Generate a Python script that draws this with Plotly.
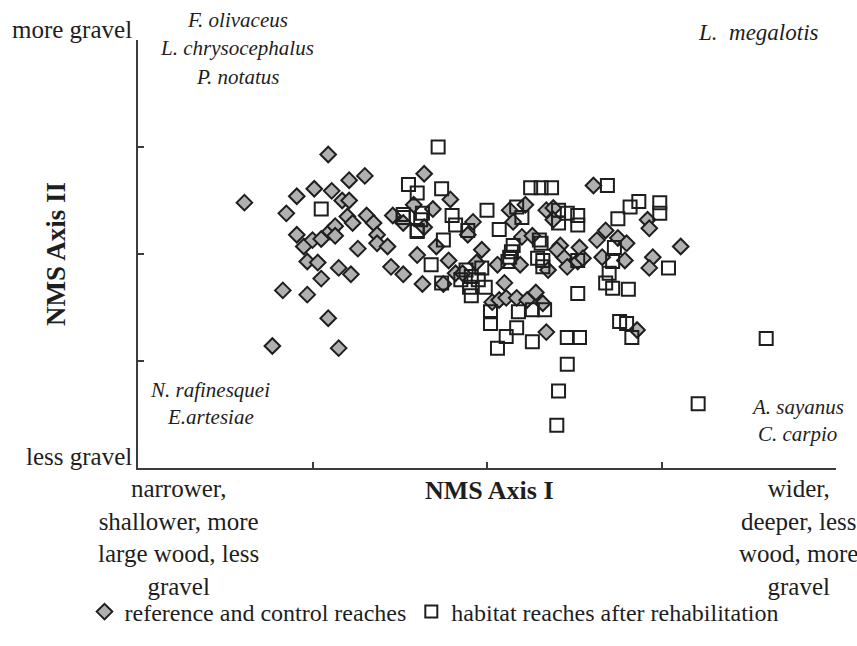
import plotly.graph_objects as go

# NMS scores (axis I, axis II)
ref_x = [-1.39, -1.23, -1.17, -1.15, -1.09, -1.09, -1.05, -1.03, -1.03, -1.00,
         -0.99, -0.97, -0.95, -0.95, -0.91, -0.91, -0.90, -0.89, -0.87, -0.87,
         -0.85, -0.85, -0.83, -0.80, -0.79, -0.79, -0.78, -0.77, -0.74, -0.70,
         -0.69, -0.65, -0.63, -0.63, -0.57, -0.55, -0.54, -0.48, -0.48, -0.42,
         -0.40, -0.37, -0.36, -0.36, -0.31, -0.29, -0.25, -0.22, -0.21, -0.18,
         -0.14, -0.11, -0.08, -0.06, -0.03, 0.03, 0.06, 0.07, 0.10, 0.11,
         0.13, 0.15, 0.17, 0.19, 0.20, 0.22, 0.23, 0.26, 0.28, 0.32,
         0.34, 0.34, 0.35, 0.38, 0.38, 0.42, 0.44, 0.46, 0.52, 0.53,
         0.61, 0.63, 0.66, 0.68, 0.75, 0.79, 0.80, 0.86, 0.92, 0.93,
         0.95, 0.93, 1.11, 0.40, 0.55]
ref_y = [0.48, -0.86, -0.34, 0.38, 0.54, 0.18, 0.07, -0.38, -0.07, 0.13,
         0.61, -0.08, 0.14, -0.23, 0.93, -0.60, 0.21, 0.59, 0.26, 0.17,
         -0.13, -0.88, 0.50, 0.35, 0.69, 0.50, -0.19, 0.29, 0.05, 0.73,
         0.36, 0.29, 0.18, 0.10, 0.07, -0.12, 0.36, 0.29, -0.19, 0.46,
         -0.01, -0.28, 0.75, 0.25, 0.42, 0.07, -0.28, -0.06, 0.51, -0.18,
         -0.18, 0.18, 0.30, -0.08, 0.04, -0.45, -0.10, -0.43, -0.27, -0.41,
         0.41, 0.30, -0.41, -0.10, 0.16, 0.46, -0.43, 0.17, -0.36, -0.46,
         0.41, -0.73, -0.15, 0.43, 0.32, 0.08, -0.03, -0.12, -0.07, 0.06,
         0.64, 0.13, -0.03, 0.22, 0.15, -0.06, 0.10, -0.71, 0.32, 0.24,
         -0.03, -0.13, 0.07, 0.04, -0.04]

hab_x = [-0.95, -0.45, -0.40, -0.48, -0.40, -0.37, -0.28, -0.26, 0.25, 0.31,
         0.37, 0.00, 0.17, 0.20, 0.07, 0.41, 0.46, 0.52, 0.52, 0.69,
         0.75, 0.82, 0.87, 0.99, 0.99, 0.41, 0.30, 0.15, 0.13, 0.29,
         0.32, 0.73, 0.72, 0.70, 0.68, 0.72, 0.81, 1.04, 0.52, -0.32,
         -0.26, -0.09, -0.01, 0.02, 0.02, 0.11, 0.06, 0.17, 0.18, 0.26,
         0.33, 0.26, 0.46, 0.53, 0.46, 0.41, 0.40, 0.76, 0.80, 0.83,
         1.21, 1.60, -0.38, -0.40, -0.18, -0.11, -0.25, -0.12, -0.09, -0.05,
         -0.15, 0.14, 0.12, 0.52, 0.32, -0.20, -0.48, 0.31, -0.10, -0.03]
hab_y = [0.42, 0.65, 0.57, 0.34, 0.22, 0.38, 1.00, 0.61, 0.62, 0.62,
         0.62, 0.41, 0.44, 0.34, 0.23, 0.41, 0.38, 0.36, 0.27, 0.64,
         0.33, 0.44, 0.49, 0.48, 0.38, 0.29, 0.13, 0.08, -0.03, -0.04,
         -0.12, 0.06, -0.07, -0.18, -0.27, -0.32, -0.33, -0.13, -0.37, -0.10,
         -0.27, -0.39, -0.31, -0.54, -0.65, -0.77, -0.88, -0.69, -0.54, -0.52,
         -0.52, -0.82, -0.78, -0.78, -1.03, -1.28, -1.60, -0.63, -0.65, -0.78,
         -1.40, -0.79, 0.32, 0.21, 0.27, 0.22, 0.13, -0.15, -0.21, -0.24,
         -0.24, 0.02, -0.07, -0.06, -0.06, 0.36, 0.37, 0.10, -0.31, -0.13]

axis_ticks = [-2, -1, 0, 1, 2]

SERIF = "Liberation Serif, Times New Roman, serif"
INK = "#1e1e1e"

fig = go.Figure()
fig.add_trace(go.Scatter(
    x=ref_x, y=ref_y, mode="markers", name="reference and control reaches",
    marker=dict(symbol="diamond", size=12, color="#b0b0b0",
                line=dict(color=INK, width=2))))
fig.add_trace(go.Scatter(
    x=hab_x, y=hab_y, mode="markers", name="habitat reaches after rehabilitation",
    marker=dict(symbol="square-open", size=13, color=INK,
                line=dict(color=INK, width=2))))

axis_common = dict(range=[-2, 2], showgrid=False, zeroline=False, showline=True,
                   linecolor="#3c3c3c", linewidth=1.5, ticks="inside", ticklen=6,
                   tickcolor="#3c3c3c", tickwidth=1.5, tickvals=axis_ticks,
                   showticklabels=False, fixedrange=True)

fig.update_layout(
    width=857, height=646,
    margin=dict(l=138, r=21, t=40, b=178, autoexpand=False),
    paper_bgcolor="white", plot_bgcolor="white",
    xaxis=axis_common, yaxis=axis_common,
    font=dict(family=SERIF, size=24, color=INK),
    showlegend=True,
    legend=dict(orientation="h", xref="container", yref="container",
                x=434 / 857, xanchor="center", y=(646 - 612) / 646, yanchor="middle",
                font=dict(family=SERIF, size=24, color=INK),
                itemsizing="constant", itemwidth=30, tracegroupgap=0,
                bgcolor="rgba(0,0,0,0)"),
)

def ann(text, x, y, size=24, italic=False, bold=False, xanchor="center", align="center", angle=0):
    t = text
    if italic:
        t = "<i>" + t + "</i>"
    if bold:
        t = "<b>" + t + "</b>"
    fig.add_annotation(text=t, x=x, y=y, xref="paper", yref="paper", showarrow=False,
                       xanchor=xanchor, yanchor="middle", align=align, textangle=angle,
                       font=dict(family=SERIF, size=size, color=INK))

# paper coordinates: px -> (px-138)/698, py -> (468-py)/428
def px(xp):
    return (xp - 138) / 698

def py(yp):
    return (468 - yp) / 428

ann("more gravel", px(134), py(30), size=25, xanchor="right")
ann("less gravel", px(134), py(456), size=25, xanchor="right")
ann("NMS Axis II", px(56), py(254), size=27, bold=True, angle=-90)
ann("NMS Axis I", px(489), py(490), size=26, bold=True)
ann("narrower,<br>shallower, more<br>large wood, less<br>gravel", px(178), py(537), size=25)
ann("wider,<br>deeper, less<br>wood, more<br>gravel", px(798), py(537), size=25)

ann("F. olivaceus", px(237), py(20), size=21, italic=True)
ann("L. chrysocephalus", px(237), py(48), size=21, italic=True)
ann("P. notatus", px(237), py(77), size=21, italic=True)
ann("L.  megalotis", px(758), py(32), size=23, italic=True)
ann("N. rafinesquei", px(210), py(390), size=21, italic=True)
ann("E.artesiae", px(210), py(417), size=21, italic=True)
ann("A. sayanus", px(797), py(407), size=21, italic=True)
ann("C. carpio", px(797), py(434), size=21, italic=True)

fig.write_html("out.html")
